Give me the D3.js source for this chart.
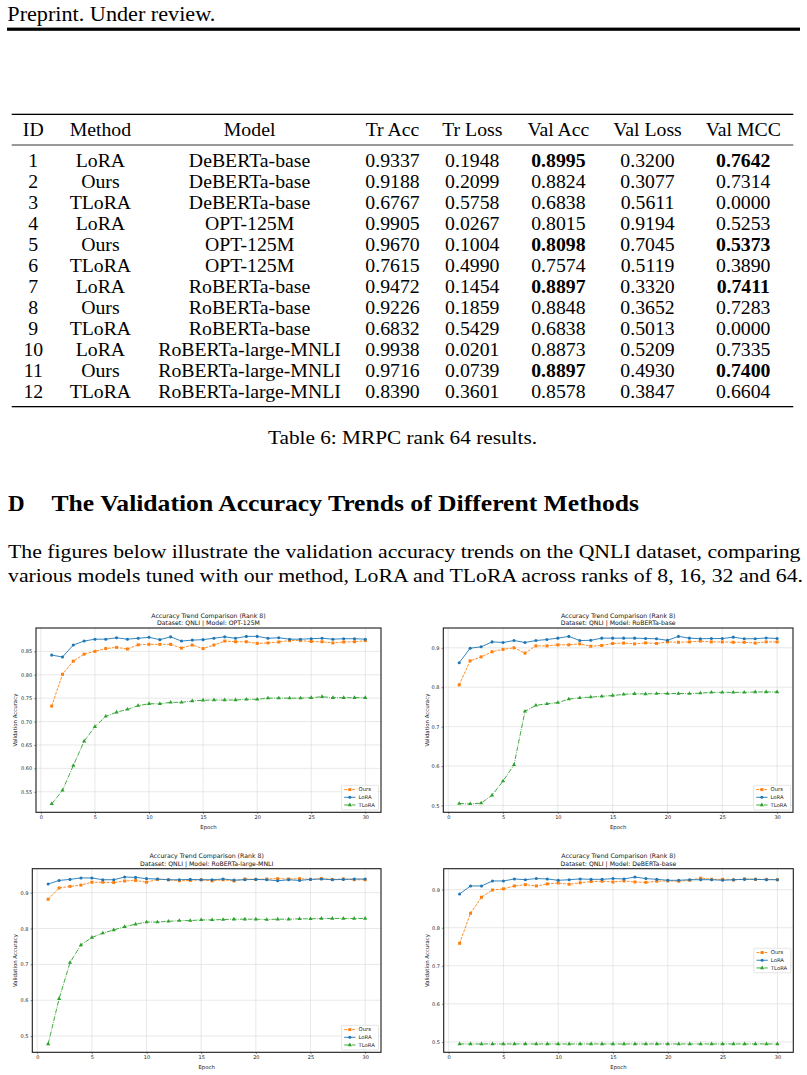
<!DOCTYPE html>
<html><head><meta charset="utf-8">
<script src="https://cdn.jsdelivr.net/npm/d3@7"></script>
<style>body{margin:0;background:#fff} svg{display:block}</style>
</head><body>
<svg id="page" width="807" height="1075"></svg>
<script>
// ---------------- Table data ----------------
const tableColumns = ["ID","Method","Model","Tr Acc","Tr Loss","Val Acc","Val Loss","Val MCC"];
const tableIds = [1,2,3,4,5,6,7,8,9,10,11,12];
const tableMethods = ["LoRA","Ours","TLoRA","LoRA","Ours","TLoRA","LoRA","Ours","TLoRA","LoRA","Ours","TLoRA"];
const tableModels = ["DeBERTa-base","DeBERTa-base","DeBERTa-base","OPT-125M","OPT-125M","OPT-125M",
  "RoBERTa-base","RoBERTa-base","RoBERTa-base","RoBERTa-large-MNLI","RoBERTa-large-MNLI","RoBERTa-large-MNLI"];
const trAcc   = [0.9337,0.9188,0.6767,0.9905,0.9670,0.7615,0.9472,0.9226,0.6832,0.9938,0.9716,0.8390];
const trLoss  = [0.1948,0.2099,0.5758,0.0267,0.1004,0.4990,0.1454,0.1859,0.5429,0.0201,0.0739,0.3601];
const valAcc  = [0.8995,0.8824,0.6838,0.8015,0.8098,0.7574,0.8897,0.8848,0.6838,0.8873,0.8897,0.8578];
const valLoss = [0.3200,0.3077,0.5611,0.9194,0.7045,0.5119,0.3320,0.3652,0.5013,0.5209,0.4930,0.3847];
const valMCC  = [0.7642,0.7314,0.0000,0.5253,0.5373,0.3890,0.7411,0.7283,0.0000,0.7335,0.7400,0.6604];
const boldRows = [1,5,7,11]; // Val Acc and Val MCC bold in these rows

// ---------------- Chart data ----------------
const epochs = [1,2,3,4,5,6,7,8,9,10,11,12,13,14,15,16,17,18,19,20,21,22,23,24,25,26,27,28,29,30];
const seriesNames = ["Ours","LoRA","TLoRA"];
const modelNames = ["OPT-125M","RoBERTa-base","RoBERTa-large-MNLI","DeBERTa-base"];
const xTicks = [0,5,10,15,20,25,30];
const yTicksOpt = [0.55,0.60,0.65,0.70,0.75,0.80,0.85];
const yTicksOther = [0.5,0.6,0.7,0.8,0.9];

const optOurs  = [0.733,0.801,0.829,0.844,0.850,0.856,0.8585,0.855,0.864,0.865,0.865,0.865,0.857,0.8635,0.856,0.8635,0.872,0.8705,0.8705,0.867,0.868,0.870,0.873,0.873,0.871,0.8705,0.868,0.870,0.8705,0.873];
const optLora  = [0.842,0.838,0.8635,0.872,0.876,0.876,0.879,0.876,0.878,0.880,0.875,0.881,0.872,0.874,0.875,0.878,0.881,0.878,0.882,0.882,0.878,0.879,0.876,0.876,0.877,0.878,0.876,0.877,0.877,0.876];
const optTlora = [0.524,0.553,0.606,0.658,0.689,0.711,0.720,0.726,0.734,0.738,0.738,0.741,0.741,0.744,0.7455,0.746,0.746,0.746,0.7475,0.7475,0.750,0.750,0.750,0.750,0.751,0.753,0.751,0.751,0.751,0.751];

const rbOurs  = [0.806,0.867,0.877,0.890,0.896,0.900,0.8865,0.905,0.905,0.9075,0.9075,0.910,0.904,0.906,0.911,0.912,0.910,0.9125,0.911,0.915,0.914,0.915,0.917,0.915,0.915,0.914,0.914,0.912,0.915,0.915];
const rbLora  = [0.862,0.899,0.9025,0.915,0.9135,0.9185,0.9135,0.9185,0.921,0.9245,0.929,0.9185,0.919,0.9245,0.9245,0.9245,0.9245,0.9235,0.923,0.919,0.929,0.9245,0.923,0.9235,0.9235,0.927,0.923,0.923,0.925,0.9235];
const rbTlora = [0.505,0.504,0.506,0.526,0.562,0.603,0.739,0.754,0.758,0.761,0.770,0.773,0.775,0.777,0.779,0.782,0.7835,0.783,0.784,0.784,0.784,0.784,0.785,0.787,0.787,0.787,0.787,0.788,0.788,0.788];

const rlOurs  = [0.8815,0.913,0.9175,0.921,0.929,0.929,0.928,0.9325,0.934,0.929,0.937,0.936,0.933,0.934,0.936,0.933,0.936,0.9325,0.938,0.937,0.938,0.939,0.938,0.939,0.937,0.939,0.937,0.938,0.936,0.936];
const rlLora  = [0.924,0.934,0.937,0.941,0.941,0.936,0.936,0.9435,0.9425,0.939,0.938,0.936,0.936,0.937,0.936,0.936,0.938,0.935,0.936,0.937,0.936,0.933,0.936,0.934,0.937,0.938,0.936,0.937,0.938,0.938];
const rlTlora = [0.478,0.604,0.705,0.754,0.775,0.787,0.796,0.805,0.812,0.818,0.818,0.820,0.822,0.822,0.824,0.824,0.825,0.826,0.826,0.826,0.825,0.826,0.826,0.827,0.827,0.828,0.828,0.828,0.828,0.828];

const dbOurs  = [0.759,0.838,0.880,0.899,0.902,0.9096,0.913,0.9096,0.915,0.9175,0.914,0.918,0.921,0.922,0.920,0.9227,0.920,0.919,0.922,0.9227,0.922,0.9245,0.930,0.927,0.927,0.9253,0.928,0.927,0.927,0.926];
const dbLora  = [0.8886,0.9096,0.9096,0.9227,0.9227,0.928,0.926,0.929,0.928,0.9245,0.926,0.928,0.927,0.927,0.929,0.928,0.933,0.929,0.927,0.9245,0.9245,0.926,0.926,0.926,0.9245,0.926,0.927,0.927,0.926,0.926];
const dbTlora = [0.4947,0.4947,0.4947,0.4947,0.4947,0.4947,0.4947,0.4947,0.4947,0.4947,0.4947,0.4947,0.4947,0.4947,0.4947,0.4947,0.4947,0.4947,0.4947,0.4947,0.4947,0.4947,0.4947,0.4947,0.4947,0.4947,0.4947,0.4947,0.4947,0.4947];

// ---------------- Drawing ----------------
const svg = d3.select("#page");
const SERIF = "'Liberation Serif','Times New Roman',serif";
const SANS = "'DejaVu Sans',sans-serif";

function ptext(x, y, str, size, opts = {}) {
  const t = svg.append("text").attr("x", x).attr("y", y).text(str)
    .attr("font-family", SERIF).attr("font-size", size).attr("fill", "#000");
  if (opts.anchor) t.attr("text-anchor", opts.anchor);
  if (opts.bold) t.attr("font-weight", "bold");
  if (opts.len) t.attr("textLength", opts.len).attr("lengthAdjust", "spacingAndGlyphs");
  if (opts.widen) {
    const L = t.node().getComputedTextLength();
    t.attr("textLength", L * opts.widen).attr("lengthAdjust", "spacingAndGlyphs");
  }
  return t;
}

// header
ptext(7.3, 20.7, "Preprint. Under review.", 21, {len: 208});
svg.append("rect").attr("x", 7).attr("y", 27.6).attr("width", 793).attr("height", 3.2).attr("fill", "#000");

// table
const colX = [33.3, 100.4, 249.6, 392.5, 472.3, 558.4, 647.5, 743.3];
const ruleL = 11.7, ruleR = 793.3;
svg.append("rect").attr("x", ruleL).attr("y", 113.7).attr("width", ruleR - ruleL).attr("height", 1.3).attr("fill", "#000");
svg.append("rect").attr("x", ruleL).attr("y", 144.6).attr("width", ruleR - ruleL).attr("height", 0.8).attr("fill", "#000");
svg.append("rect").attr("x", ruleL).attr("y", 406).attr("width", ruleR - ruleL).attr("height", 1.3).attr("fill", "#000");

const headerY = 129.3, row0Y = 161, rowStep = 20.97;
tableColumns.forEach((c, i) => ptext(colX[i], headerY, c, 19, {anchor: "middle", widen: 1.04}).attr("dy", "0.34em"));
const f4 = d3.format(".4f");
tableIds.forEach((id, r) => {
  const y = row0Y + r * rowStep;
  const bold = boldRows.includes(id);
  const cells = [String(id), tableMethods[r], tableModels[r], f4(trAcc[r]), f4(trLoss[r]), f4(valAcc[r]), f4(valLoss[r]), f4(valMCC[r])];
  cells.forEach((c, i) => {
    ptext(colX[i], y, c, 19, {anchor: "middle", bold: bold && (i === 5 || i === 7), widen: 1.04}).attr("dy", "0.34em");
  });
});

// caption, heading, paragraph
ptext(268, 443.5, "Table 6: MRPC rank 64 results.", 19, {len: 269});
ptext(8, 510.5, "D", 23, {bold: true});
ptext(51.5, 510.5, "The Validation Accuracy Trends of Different Methods", 23, {bold: true, len: 587.5});
ptext(8, 558, "The figures below illustrate the validation accuracy trends on the QNLI dataset, comparing", 19.5, {len: 792.5});
ptext(8, 581.5, "various models tuned with our method, LoRA and TLoRA across ranks of 8, 16, 32 and 64.", 19.5, {len: 795});

// ---------------- Panels ----------------
const colors = ["#ff7f0e", "#1f77b4", "#2ca02c"];
const dashes = ["2.8,1.2", null, "4.7,1.2,0.8,1.2"];
const symbols = [d3.symbolSquare, d3.symbolCircle, d3.symbolTriangle];
const symSizes = [9, 7.5, 7.5];

const panels = [
  {model: modelNames[0], data: [optOurs, optLora, optTlora], yTicks: yTicksOpt, fmt: ".2f",
   rect: {l: 36, t: 628, r: 381, b: 812.3}, ylabOff: 21, legend: "lower right"},
  {model: modelNames[1], data: [rbOurs, rbLora, rbTlora], yTicks: yTicksOther, fmt: ".1f",
   rect: {l: 443.3, t: 628, r: 793, b: 812.3}, ylabOff: 16, legend: "lower right"},
  {model: modelNames[2], data: [rlOurs, rlLora, rlTlora], yTicks: yTicksOther, fmt: ".1f",
   rect: {l: 32.3, t: 868.7, r: 381, b: 1052.3}, ylabOff: 17.3, legend: "lower right"},
  {model: modelNames[3], data: [dbOurs, dbLora, dbTlora], yTicks: yTicksOther, fmt: ".1f",
   rect: {l: 443.7, t: 868.7, r: 793.3, b: 1052.3}, ylabOff: 16.4, legend: "center right"}
];

function drawPanel(p) {
  const R = p.rect;
  const g = svg.append("g");
  const ex = d3.extent(epochs), xp = (ex[1] - ex[0]) * 0.05;
  const x = d3.scaleLinear().domain([ex[0] - xp, ex[1] + xp]).range([R.l, R.r]);
  const ey = d3.extent(p.data.flat()), yp = (ey[1] - ey[0]) * 0.05;
  const y = d3.scaleLinear().domain([ey[0] - yp, ey[1] + yp]).range([R.b, R.t]);

  // grid
  g.append("g").selectAll("line").data(xTicks).join("line")
    .attr("x1", d => x(d)).attr("x2", d => x(d)).attr("y1", R.t).attr("y2", R.b)
    .attr("stroke", "#dedede").attr("stroke-width", 0.7);
  g.append("g").selectAll("line").data(p.yTicks).join("line")
    .attr("x1", R.l).attr("x2", R.r).attr("y1", d => y(d)).attr("y2", d => y(d))
    .attr("stroke", "#dedede").attr("stroke-width", 0.7);

  // axes
  const xa = g.append("g").attr("transform", `translate(0,${R.b})`)
    .call(d3.axisBottom(x).tickValues(xTicks).tickSize(1.8).tickPadding(1.8).tickFormat(d3.format("d")));
  const ya = g.append("g").attr("transform", `translate(${R.l},0)`)
    .call(d3.axisLeft(y).tickValues(p.yTicks).tickSize(1.8).tickPadding(2).tickFormat(d3.format(p.fmt)));
  [xa, ya].forEach(a => {
    a.select(".domain").remove();
    a.selectAll("line").attr("stroke", "#222").attr("stroke-width", 0.5);
    a.selectAll("text").attr("font-family", SANS).attr("font-size", 5).attr("fill", "#222");
  });

  // series
  p.data.forEach((vals, si) => {
    const line = d3.line().x((d, i) => x(epochs[i])).y(d => y(d));
    const path = g.append("path").datum(vals).attr("d", line).attr("fill", "none")
      .attr("stroke", colors[si]).attr("stroke-width", 0.9);
    if (dashes[si]) path.attr("stroke-dasharray", dashes[si]);
    g.append("g").selectAll("path").data(vals).join("path")
      .attr("transform", (d, i) => `translate(${x(epochs[i])},${y(d)})`)
      .attr("d", d3.symbol().type(symbols[si]).size(symSizes[si]))
      .attr("fill", colors[si]);
  });

  // frame
  g.append("rect").attr("x", R.l).attr("y", R.t).attr("width", R.r - R.l).attr("height", R.b - R.t)
    .attr("fill", "none").attr("stroke", "#1a1a1a").attr("stroke-width", 1.1);

  // titles
  const cx = (R.l + R.r) / 2;
  g.append("text").attr("x", cx).attr("y", R.t - 12.5).attr("dy", "0.35em").attr("text-anchor", "middle")
    .attr("font-family", SANS).attr("font-size", 6.2).attr("fill", "#111")
    .text("Accuracy Trend Comparison (Rank 8)");
  g.append("text").attr("x", cx).attr("y", R.t - 5).attr("dy", "0.35em").attr("text-anchor", "middle")
    .attr("font-family", SANS).attr("font-size", 6.2).attr("fill", "#111")
    .text(`Dataset: QNLI | Model: ${p.model}`);

  // axis labels
  g.append("text").attr("x", cx).attr("y", R.b + 14.4).attr("dy", "0.35em").attr("text-anchor", "middle")
    .attr("font-family", SANS).attr("font-size", 5.4).attr("fill", "#222").text("Epoch");
  const ly = (R.t + R.b) / 2, lx = R.l - p.ylabOff;
  g.append("text").attr("transform", `translate(${lx},${ly}) rotate(-90)`).attr("dy", "0.35em")
    .attr("text-anchor", "middle").attr("font-family", SANS).attr("font-size", 5.4).attr("fill", "#222")
    .text("Validation Accuracy");

  // legend
  const lw = 37, lh = 24.5;
  const lxp = R.r - 2.5 - lw;
  const lyp = p.legend === "lower right" ? R.b - 2.5 - lh : (R.t + R.b) / 2 - lh / 2;
  const lg = g.append("g").attr("transform", `translate(${lxp},${lyp})`);
  lg.append("rect").attr("width", lw).attr("height", lh).attr("rx", 1)
    .attr("fill", "#fff").attr("fill-opacity", 0.85).attr("stroke", "#cccccc").attr("stroke-width", 0.5);
  seriesNames.forEach((name, si) => {
    const ry = 4.3 + si * 7.7;
    const hl = lg.append("line").attr("x1", 2.7).attr("x2", 14).attr("y1", ry).attr("y2", ry)
      .attr("stroke", colors[si]).attr("stroke-width", 0.9);
    if (dashes[si]) hl.attr("stroke-dasharray", dashes[si]);
    lg.append("path").attr("transform", `translate(8.35,${ry})`)
      .attr("d", d3.symbol().type(symbols[si]).size(symSizes[si])).attr("fill", colors[si]);
    lg.append("text").attr("x", 17).attr("y", ry).attr("dy", "0.35em")
      .attr("font-family", SANS).attr("font-size", 5.3).attr("fill", "#222").text(name);
  });
}
panels.forEach(drawPanel);
</script>
</body></html>
